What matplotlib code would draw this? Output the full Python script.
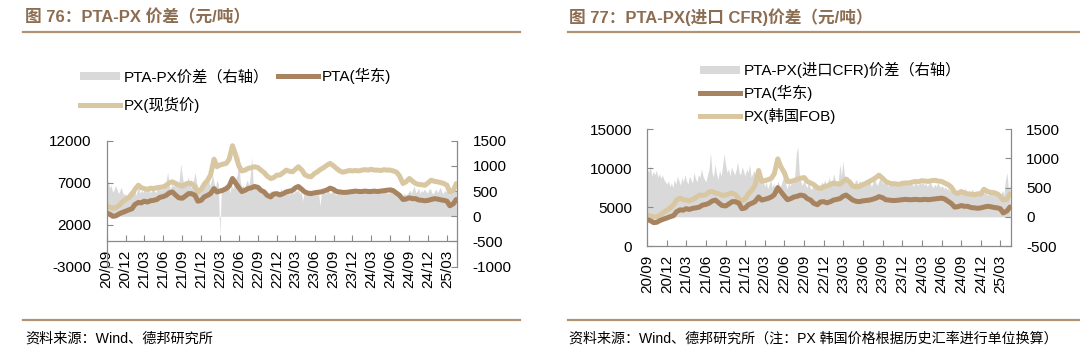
import matplotlib

matplotlib.use("Agg")
import matplotlib.dates as mdates
import matplotlib.pyplot as plt
import pandas as pd
from matplotlib.lines import Line2D
from matplotlib.patches import Patch

plt.rcParams["font.family"] = ["Liberation Sans", "Noto Sans CJK SC"]
plt.rcParams["axes.unicode_minus"] = False

START = "2020-09-01"
X_END = "2025-04-20"

# semi-monthly prices (yuan/t)
pta_east = [
    3400, 3250, 3000, 3050, 3300, 3450,
    3600, 3750, 3900, 4400, 4650, 4600,
    4800, 4700, 4850, 4900, 5000, 5250,
    5350, 5500, 5800, 5900, 5500, 5200,
    5150, 5400, 5700, 5700, 5500, 4800,
    4900, 5300, 5500, 5700, 6300, 5900,
    6000, 6100, 6300, 6600, 7500, 7000,
    6400, 5950, 6100, 6300, 6400, 6550,
    6450, 6100, 5900, 5500, 5300, 5650,
    5700, 5550, 5700, 5900, 6000, 6100,
    6400, 6550, 6200, 5900, 5750, 5700,
    5800, 5850, 5900, 6000, 6150, 6350,
    6200, 5950, 5900, 5850, 5850, 5900,
    5950, 6000, 5950, 5950, 6000, 5950,
    5950, 6000, 5950, 6000, 6050, 6100,
    6150, 6050, 5750, 5500, 5000, 5050,
    5200, 5100, 5100, 4950, 4900, 4850,
    4900, 5000, 5100, 5050, 4950, 4900,
    4800, 4250, 4500, 5000,
]
px_spot = [
    4250, 4100, 3950, 4050, 4300, 4700,
    5000, 5200, 5600, 6200, 6700, 6400,
    6300, 6200, 6350, 6300, 6400, 6450,
    6500, 6700, 7000, 7100, 6900, 6700,
    6600, 6800, 6950, 6900, 6500, 5900,
    6200, 6800, 7300, 7900, 9800, 8900,
    9100, 9200, 9300, 9800, 11400, 10400,
    9000, 8400, 8500, 8700, 8800, 8900,
    8800, 8500, 8200, 7800, 7500, 7600,
    7900, 7900, 8200, 8500, 8350, 8300,
    8600, 8900, 8500, 7950, 7750, 7700,
    8100, 8300, 8600, 8800, 9100, 9300,
    9000, 8700, 8400, 8250, 8350, 8450,
    8400, 8450, 8400, 8500, 8550, 8500,
    8600, 8500, 8500, 8450, 8550, 8500,
    8500, 8400, 8250, 7800, 6900, 7100,
    7500, 7200, 6900, 6800, 6750, 6700,
    7000, 7300, 7150, 7100, 7000, 6900,
    6700, 5900, 6100, 6900,
]
px_korea_fob = [
    4000, 3850, 3700, 3750, 4000, 4300,
    4600, 4850, 5300, 5900, 6150, 5950,
    5900, 5800, 6000, 6200, 6550, 6500,
    6600, 6950, 7000, 6800, 6700, 6500,
    6550, 6700, 6800, 6600, 6100, 5800,
    6100, 6700, 7200, 7800, 9700, 8300,
    8400, 8500, 8700, 9300, 11200, 10200,
    9400, 8300, 8300, 8400, 8600, 8700,
    8800, 8300, 8100, 7900, 7500, 7400,
    7600, 7700, 7900, 8100, 8000, 7950,
    8300, 8600, 8200, 7700, 7600, 7650,
    7900, 8050, 8300, 8500, 8800, 9100,
    8700, 8300, 8100, 8000, 8000, 7900,
    8050, 8100, 8100, 8200, 8300, 8250,
    8400, 8350, 8300, 8400, 8450, 8350,
    8300, 8100, 7900, 7600, 6900, 6750,
    7000, 6800, 6700, 6650, 6600, 6700,
    6700, 7300, 7000, 6900, 6850, 6700,
    6400, 5900, 6000, 6700,
]

# weekly spreads (yuan/t, right axis)
spread_spot = [
    640, 700, 560, 620, 480, 520, 610, 540, 450, 500, 580, 470, 430,
    440, 410, 470, 520, 380, 450, 560, 420, 490, 610, 450, 520, 470,
    560, 480, 520, 600, 450, 540, 620, 500, 470, 580, 640, 510, 560,
    520, 600, 700, 880, 620, 540, 660, 580, 700, 640, 550, 720, 1040,
    820, 650, 720, 600, 780, 680, 560, 620, 740, 870, 650, 580, 520,
    560, 640, 720, 620, 680, 780, 600, 700, 820, 660, 580, 720, 640,
    -400, 520, 600, 480, 650, 560, 700, 460, 620, 540, 680, 750, 820,
    1250, 700, 580, 620, 540, 660, 720, 600, 820, 1180, 650, 560, 620,
    520, 580, 480, 540, 460, 420, 500, 380, 450, 520, 400, 470, 430,
    460, 520, 410, 560, 480, 440, 520, 460, 500, 420, 540, 480, 450,
    520, 480, 560, 440, 500, 300, 460, 520, 430, 490, 540, 420, 470,
    480, 520, 440, 500, 200, 460, 520, 480, 440, 560, 500, 450, 480,
    520, 460, 420, 500, 540, 450, 480, 520, 440, 500, 470, 530, 490,
    460, 520, 480, 440, 500, 530, 470, 450, 510, 490, 460, 520, 480,
    500, 470, 530, 480, 440, 510, 490, 460, 520, 480, 500, 470, 450,
    490, 520, 460, 500, 440, 420, 470, 430, 400, 380, 460, 420, 440,
    480, 520, 460, 540, 600, 470, 500, 560, 450, 520, 480, 540, 500,
    460, 520, 560, 480, 440, 500, 540, 470, 520, 580, 490, 450, 520,
    480, 560, 420, 500, 620, 540, 480, 520,
]
spread_cfr = [
    820, 760, 880, 700, 780, 720, 800, 680, 740, 660, 720, 640, 600,
    560, 620, 520, 580, 500, 640, 560, 700, 620, 540, 680, 600, 720,
    620, 560, 700, 640, 580, 760, 660, 600, 720, 680, 820, 700, 640,
    600, 720, 820, 1100, 760, 680, 900, 740, 640, 800, 700, 860, 1080,
    900, 760, 820, 700, 860, 780, 720, 800, 940, 760, 720, 860, 780,
    700, 820, 760, 900, 680, 740, 800, 640, 720, 600, 680, 560, 620,
    520, 600, 480, 560, 640, 500, 580, 460, 540, 620, 500, 560, 640,
    700, 560, 480, 600, 520, 640, 560, 700, 1080, 1200, 760, 600, 540,
    620, 560, 500, 580, 520, 460, 540, 600, 500, 560, 480, 520, 600,
    560, 640, 520, 600, 680, 560, 620, 740, 600, 560, 640, 900, 700,
    960, 720, 600, 660, 560, 620, 580, 520, 600, 640, 560, 620, 580,
    540, 600, 640, 560, 620, 580, 520, 600, 660, 580, 540, 620, 680,
    600, 560, 640, 580, 520, 600, 560, 620, 580, 540, 600, 560, 520,
    580, 620, 560, 600, 540, 580, 620, 560, 520, 600, 560, 540, 580,
    560, 600, 540, 580, 520, 560, 600, 540, 500, 560, 520, 580, 540,
    500, 540, 480, 520, 460, 500, 440, 480, 420, 460, 400, 440, 480,
    420, 460, 400, 500, 440, 380, 460, 420, 480, 400, 440, 380, 460,
    420, 380, 460, 400, 440, 360, 420, 460, 400, 440, 380, 420, 360,
    400, 340, 460, 380, 620, 760, 480, 540,
]

line_dates = pd.date_range(START, periods=len(pta_east), freq="SMS")
week_dates = pd.date_range(START, periods=len(spread_spot), freq="7D")

PTA_COLOR = "#A8835F"
PX_COLOR = "#D8C7A1"
SPREAD_COLOR = "#D9D9D9"
TITLE_COLOR = "#8C6D51"
RULE_COLOR = "#B39274"
AXIS_COLOR = "#8A8A8A"
LINE_W = 3.6

W, H = 1080, 354


def draw_panel(fig, rect, ylim, yticks, ylim_r, yticks_r, px_values, spread_values):
    ax = fig.add_axes(rect)
    ax_r = ax.twinx()
    ax.set_zorder(ax_r.get_zorder() + 1)
    ax.patch.set_visible(False)

    ax_r.fill_between(week_dates, 0, spread_values, color=SPREAD_COLOR, linewidth=0)
    ax.plot(line_dates, px_values, color=PX_COLOR, lw=LINE_W, solid_capstyle="round")
    ax.plot(line_dates, pta_east, color=PTA_COLOR, lw=LINE_W, solid_capstyle="round")

    ax.set_xlim(pd.Timestamp(START), pd.Timestamp(X_END))
    ax.set_ylim(*ylim)
    ax.set_yticks(yticks)
    ax_r.set_ylim(*ylim_r)
    ax_r.set_yticks(yticks_r)

    ax.xaxis.set_major_locator(mdates.MonthLocator(bymonth=(3, 6, 9, 12)))
    ax.xaxis.set_major_formatter(mdates.DateFormatter("%y/%m"))

    for name in ("top", "right"):
        ax.spines[name].set_visible(False)
    for name in ("top", "left", "bottom"):
        ax_r.spines[name].set_visible(False)
    ax.spines["bottom"].set_position(("data", 0))
    for sp in (ax.spines["left"], ax.spines["bottom"], ax_r.spines["right"]):
        sp.set_color(AXIS_COLOR)
        sp.set_linewidth(0.9)

    ax.tick_params(axis="y", direction="in", length=4, pad=11, labelsize=11,
                   color=AXIS_COLOR)
    ax.tick_params(axis="x", direction="in", length=4, pad=6, labelsize=11,
                   labelrotation=90, color=AXIS_COLOR)
    ax_r.tick_params(axis="y", direction="in", length=4, pad=11, labelsize=11,
                     color=AXIS_COLOR)
    return ax, ax_r


fig = plt.figure(figsize=(W / 100, H / 100), dpi=100)
fig.patch.set_facecolor("white")

# left panel: PTA-PX spot spread
draw_panel(
    fig,
    [106.7 / W, 1 - 266.7 / H, 350.6 / W, 126 / H],
    (-3000, 12000), [-3000, 2000, 7000, 12000],
    (-1000, 1500), [-1000, -500, 0, 500, 1000, 1500],
    px_spot, spread_spot,
)

# right panel: PTA-PX (import CFR) spread
draw_panel(
    fig,
    [647.3 / W, 1 - 246 / H, 363.7 / W, 116.7 / H],
    (0, 15000), [0, 5000, 10000, 15000],
    (-500, 1500), [-500, 0, 500, 1000, 1500],
    px_korea_fob, spread_cfr,
)

# legends
legend_kw = dict(frameon=False, fontsize=11, handlelength=2.6, handletextpad=0.25,
                 borderpad=0, borderaxespad=0, handleheight=0.45, loc="upper left")
gray = Patch(facecolor=SPREAD_COLOR, edgecolor="none", label="PTA-PX价差（右轴）")
px_h = Line2D([], [], color=PX_COLOR, lw=LINE_W, label="PX(现货价)")
pta_h = Line2D([], [], color=PTA_COLOR, lw=LINE_W, label="PTA(华东)")
fig.legend(handles=[gray, px_h, pta_h], ncol=2, columnspacing=0.6, labelspacing=0.8,
           bbox_to_anchor=(80 / W, 1 - 68 / H), **legend_kw)

gray_r = Patch(facecolor=SPREAD_COLOR, edgecolor="none", label="PTA-PX(进口CFR)价差（右轴）")
pta_r = Line2D([], [], color=PTA_COLOR, lw=LINE_W, label="PTA(华东)")
px_r = Line2D([], [], color=PX_COLOR, lw=LINE_W, label="PX(韩国FOB)")
fig.legend(handles=[gray_r, pta_r, px_r], ncol=1, labelspacing=0.45,
           bbox_to_anchor=(700 / W, 1 - 62 / H), **legend_kw)

# titles, rules and source notes
fig.text(25 / W, 1 - 17 / H, "图 76：PTA-PX 价差（元/吨）", fontsize=12, fontweight="bold",
         color=TITLE_COLOR, va="center", ha="left")
fig.text(569 / W, 1 - 17 / H, "图 77：PTA-PX(进口 CFR)价差（元/吨）", fontsize=12,
         fontweight="bold", color=TITLE_COLOR, va="center", ha="left")

for x0, x1 in ((23, 520), (568, 1080)):
    for y in (32.3, 320):
        fig.add_artist(Line2D([x0 / W, x1 / W], [1 - y / H, 1 - y / H],
                              color=RULE_COLOR, lw=1.6))

fig.text(25 / W, 1 - 339 / H, "资料来源：Wind、德邦研究所", fontsize=10.2,
         va="center", ha="left")
fig.text(569 / W, 1 - 339 / H,
         "资料来源：Wind、德邦研究所（注：PX 韩国价格根据历史汇率进行单位换算）",
         fontsize=10.1, va="center", ha="left")

fig.savefig("out.png", dpi=100, facecolor="white")
